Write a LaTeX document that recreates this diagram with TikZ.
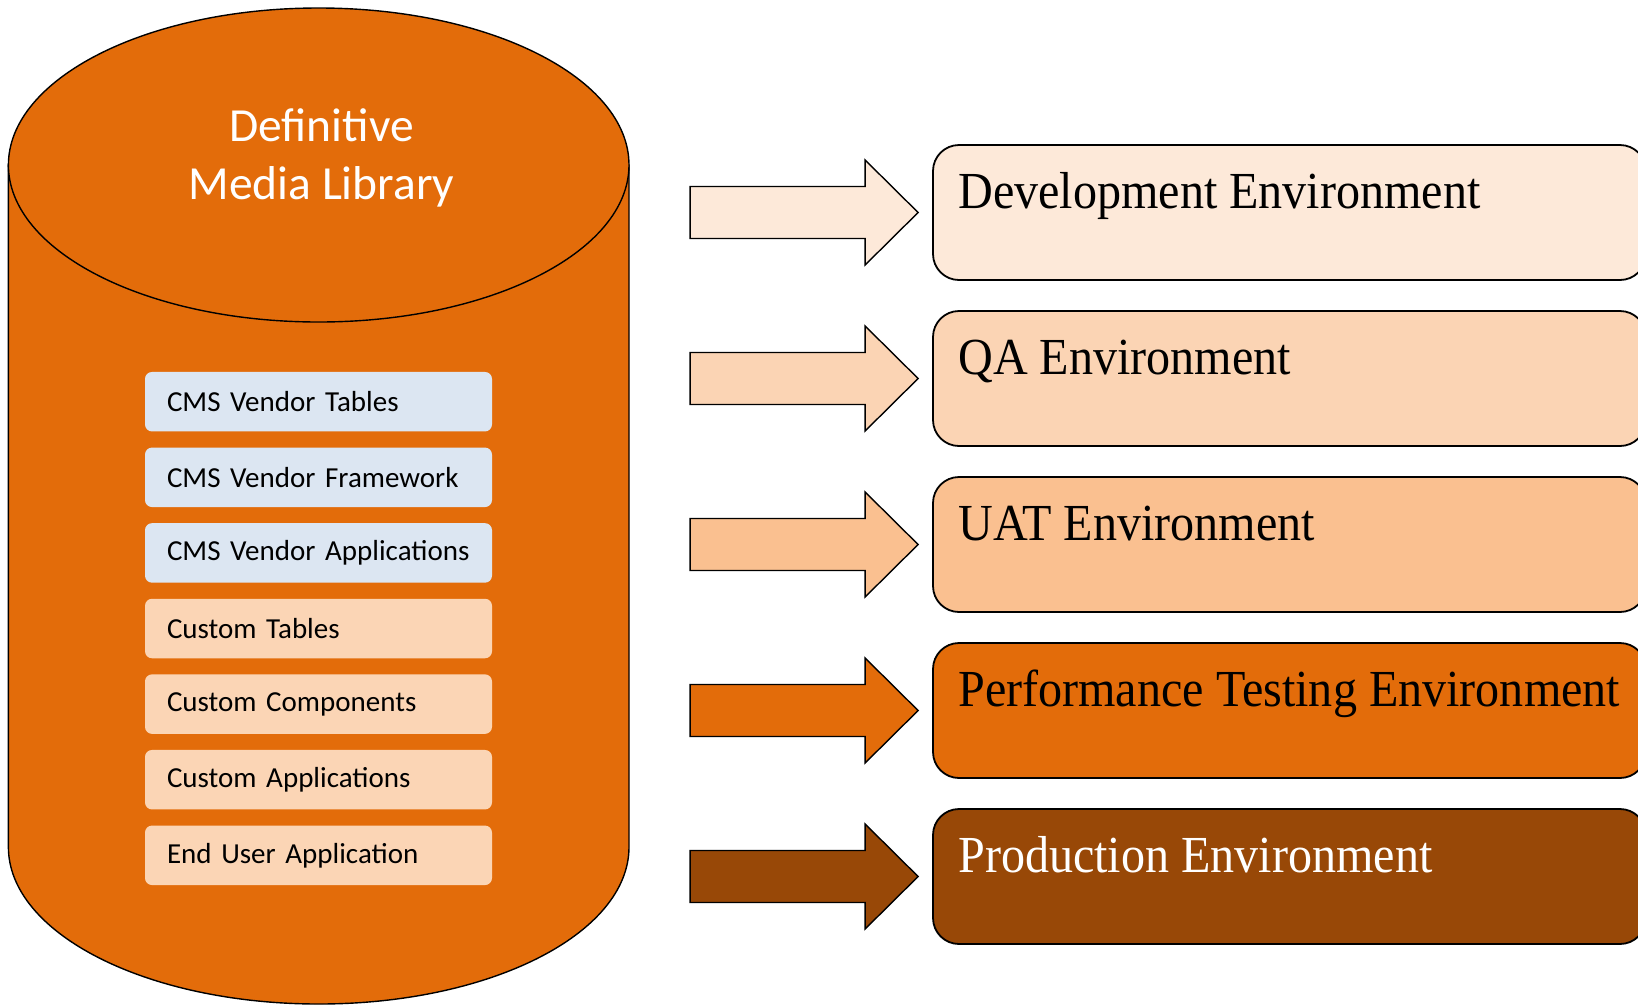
\documentclass[tikz,border=0pt]{standalone}
\usepackage{fontspec}
\newfontfamily\calibri{Carlito}
\newfontfamily\timesnarrow[FakeStretch=0.925]{Liberation Serif}
\usetikzlibrary{positioning}

\definecolor{dmlorange}{HTML}{E36C0A}
\definecolor{dmlbrown}{HTML}{984807}
\definecolor{vendorblue}{HTML}{DCE6F2}
\definecolor{custompeach}{HTML}{FBD5B5}
\definecolor{devfill}{HTML}{FDE9D9}
\definecolor{qafill}{HTML}{FBD4B4}
\definecolor{uatfill}{HTML}{FAC090}

\tikzset{
  dmlpart/.style={rounded corners=7pt, minimum width=347pt, minimum height=59.5pt,
    text width=303pt, inner xsep=22pt, align=left, font=\calibri\fontsize{29}{35}\selectfont},
  envbox/.style={draw, line width=1.8pt, rounded corners=26pt, minimum width=713pt, minimum height=135pt},
  envtext/.style={anchor=base west, inner sep=0pt, font=\timesnarrow\fontsize{52}{60}\selectfont},
  blockarrow/.style={draw, line width=1.4pt, line join=miter},
}

\begin{document}
\begin{tikzpicture}[x=1pt, y=-1pt]
  \useasboundingbox (0,0) rectangle (1638,1005);

  \filldraw[fill=dmlorange, line width=1.4pt] (8.4,165) -- (8.4,847)
    arc[start angle=180, end angle=360, x radius=310.3pt, y radius=157pt] -- (629,165) -- cycle;
  \filldraw[fill=dmlorange, line width=1.4pt] (318.7,165) ellipse [x radius=310.3pt, y radius=157pt];
  \node[align=center, text=white, font=\calibri\fontsize{47.5}{58.5}\selectfont] (title) at (321.5,158)
    {Definitive\\Media Library};

  \foreach \t/\c [count=\i] in {CMS Vendor Tables/vendorblue, CMS Vendor Framework/vendorblue,
      CMS Vendor Applications/vendorblue, Custom Tables/custompeach, Custom Components/custompeach,
      Custom Applications/custompeach, End User Application/custompeach}
    \node[dmlpart, fill=\c] (part\i) at (318.5,{401.7+75.6*(\i-1)}) {\t};

  \foreach \t/\c/\tc [count=\i] in {Development Environment/devfill/black, QA Environment/qafill/black,
      UAT Environment/uatfill/black, Performance Testing Environment/dmlorange/black,
      Production Environment/dmlbrown/white}
  {
    \node[envbox, fill=\c] (env\i) at (1289.5,{212.5+166*(\i-1)}) {};
    \node[envtext, text=\tc] (label\i) at ([xshift=26pt, yshift=-64pt]env\i.north west) {\t};
    \draw[blockarrow, fill=\c] ([xshift=-14pt]env\i.west) -- ++(-53,-52.5) -- ++(0,26.5) -- ++(-175,0)
      -- ++(0,52) -- ++(175,0) -- ++(0,26.5) -- cycle;
  }
\end{tikzpicture}
\end{document}
